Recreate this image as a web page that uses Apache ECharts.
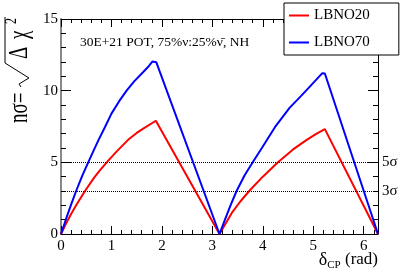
<!DOCTYPE html>
<html>
<head>
<meta charset="utf-8">
<script src="https://cdn.jsdelivr.net/npm/echarts@6/dist/echarts.min.js"></script>
<style>html,body{margin:0;padding:0;background:#fff}#c{width:407px;height:276px}</style>
</head>
<body>
<div id="c"></div>
<script>
var lbno20X = [0, 0.1, 0.2, 0.3, 0.475, 0.65, 0.75, 0.905, 1.1, 1.33, 1.5, 1.63, 1.88, 3.1416, 3.4, 3.55, 3.73, 4.0, 4.3, 4.6, 4.87, 5.05, 5.23, 6.2832];
var lbno20Y = [0, 0.73, 1.4, 2.0, 3.0, 3.9, 4.35, 5.0, 5.75, 6.57, 7.05, 7.35, 7.9, 0, 1.55, 2.25, 3.0, 4.0, 5.0, 5.9, 6.57, 6.97, 7.32, 0];
var lbno70X = [0, 0.1, 0.2, 0.3, 0.42, 0.54, 0.65, 0.75, 0.87, 1.0, 1.15, 1.3, 1.45, 1.63, 1.72, 1.81, 1.89, 3.1416, 3.25, 3.36, 3.48, 3.64, 3.80, 4.0, 4.24, 4.53, 4.75, 4.95, 5.18, 5.23, 6.2832];
var lbno70Y = [0, 1.05, 2.05, 3.0, 4.05, 5.0, 5.85, 6.6, 7.45, 8.4, 9.25, 10.0, 10.65, 11.3, 11.63, 12.03, 11.98, 0, 1.0, 2.0, 3.0, 4.1, 5.0, 6.1, 7.45, 8.8, 9.6, 10.35, 11.22, 11.2, 0];
var sigmaLevels = [5, 3];
var sigmaLabels = ['5σ', '3σ'];
var xTickLabels = ['0', '1', '2', '3', '4', '5', '6'];
var yTickLabels = ['0', '5', '10', '15'];

function pairs(xs, ys) { return xs.map(function (x, i) { return [x, ys[i]]; }); }

var serif = 'Liberation Serif';
var chart = echarts.init(document.getElementById('c'), null, {renderer: 'canvas'});
var axisBase = function (pos, show) {
  return {
    type: 'value', position: pos, min: 0,
    axisLine: {show: true, onZero: false, lineStyle: {color: '#000', width: 1}},
    axisTick: {show: true, inside: true, length: 8, lineStyle: {color: '#000'}},
    minorTick: {show: true, splitNumber: 5, length: 4, lineStyle: {color: '#000'}},
    splitLine: {show: false},
    axisLabel: {show: show}
  };
};
var xb = axisBase('bottom', true);
xb.max = 6.2832; xb.interval = 1;
xb.axisLabel = {show: true, fontFamily: serif, fontSize: 15, color: '#000', margin: 5,
  showMaxLabel: false,
  formatter: function (v) { var i = Math.round(v); return Math.abs(v - i) < 1e-6 ? xTickLabels[i] : ''; }};
var xt = axisBase('top', false);
xt.max = 6.2832; xt.interval = 1;
var yl = axisBase('left', true);
yl.max = 15; yl.interval = 5;
yl.axisTick.length = 10; yl.minorTick.length = 5;
yl.axisLine.lineStyle = {color: '#888', width: 2};
yl.axisLabel = {show: true, fontFamily: serif, fontSize: 15, color: '#000', margin: 3,
  formatter: function (v) { return yTickLabels[Math.round(v / 5)]; }};
var yr = axisBase('right', false);
yr.max = 15; yr.interval = 5;
yr.axisTick.length = 10; yr.minorTick.length = 5;

var lblFont = '19px "Liberation Serif"';
chart.setOption({
  animation: false,
  grid: {left: 61, top: 19, right: 29, bottom: 42},
  xAxis: [xb, xt],
  yAxis: [yl, yr],
  legend: {
    left: 284, top: 3, orient: 'vertical',
    backgroundColor: '#fff', borderColor: '#000', borderWidth: 1,
    padding: [5, 29, 5, 5], itemGap: 12, itemWidth: 20, itemHeight: 2, icon: 'rect',
    textStyle: {fontFamily: serif, fontSize: 15, color: '#000', lineHeight: 14},
    data: ['LBNO20', 'LBNO70']
  },
  series: [
    {name: 'LBNO20', type: 'line', symbol: 'none', data: pairs(lbno20X, lbno20Y),
      lineStyle: {color: '#ff0000', width: 2}, itemStyle: {color: '#ff0000'}, z: 3,
      markLine: {silent: true, symbol: 'none', animation: false,
        lineStyle: {color: '#000', type: 'dotted', width: 1},
        label: {position: 'end', distance: 4, fontFamily: serif, fontSize: 15, color: '#000',
          padding: [0, 0, 12, 0],
          formatter: function (p) { return sigmaLabels[sigmaLevels.indexOf(p.value)]; }},
        data: sigmaLevels.map(function (v) { return {yAxis: v}; })}
    },
    {name: 'LBNO70', type: 'line', symbol: 'none', data: pairs(lbno70X, lbno70Y),
      lineStyle: {color: '#0000ff', width: 2}, itemStyle: {color: '#0000ff'}, z: 4}
  ],
  graphic: [
    {type: 'text', left: 80, top: 35, style: {text: '30E+21 POT, 75%ν:25%ν\u0304, NH', font: '13.5px "Liberation Serif"', fill: '#000'}},
    {type: 'text', right: 29, top: 251, style: {
      text: '{d|δ}{s|CP}{r| (rad)}',
      rich: {d: {font: '18px "Liberation Serif"', fill: '#000'},
             s: {font: '11px "Liberation Serif"', fill: '#000', padding: [10, 0, 0, 0]},
             r: {font: '17px "Liberation Serif"', fill: '#000'}}}},
    {type: 'group', x: 20, y: 123, rotation: Math.PI / 2, scaleY: 1.4, children: [
      {type: 'text', x: 0, y: 0, style: {text: 'nσ=', font: lblFont, fill: '#000', verticalAlign: 'middle', align: 'left'}},
      {type: 'text', x: 64, y: 0, style: {text: 'Δ', font: lblFont, fill: '#000', verticalAlign: 'middle', align: 'left'}},
      {type: 'text', x: 84, y: 0, style: {text: 'χ', font: lblFont, fill: '#000', verticalAlign: 'middle', align: 'left'}},
      {type: 'text', x: 99, y: -6, style: {text: '2', font: '12px "Liberation Serif"', fill: '#000', verticalAlign: 'middle', align: 'left'}}
    ]},
    {type: 'group', x: 20, y: 123, rotation: Math.PI / 2, children: [
      {type: 'polyline', shape: {points: [[36, 1], [39, -1], [45, 9], [60, -15], [106, -15]]}, style: {stroke: '#000', lineWidth: 1, fill: null}}
    ]}
  ]
});
</script>
</body>
</html>
